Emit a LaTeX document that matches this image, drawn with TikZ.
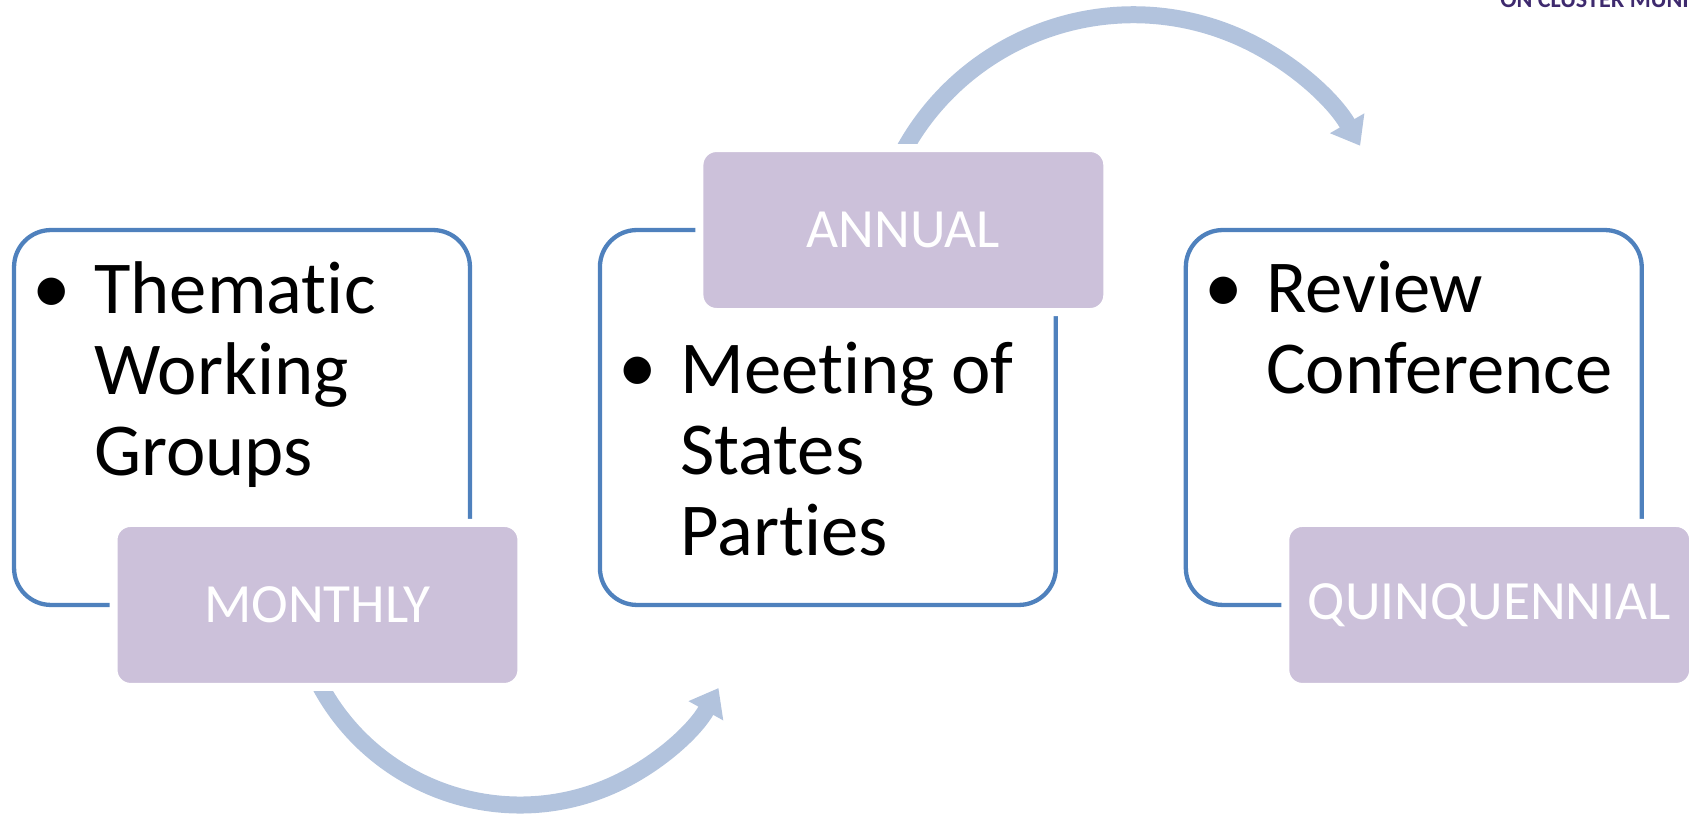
\documentclass[tikz,border=0pt]{standalone}
\usepackage{fontspec}
\setmainfont{Carlito}[Ligatures=NoCommon]
\usetikzlibrary{positioning,arrows.meta,backgrounds}
\definecolor{boxblue}{RGB}{79,129,189}
\definecolor{lilac}{RGB}{204,193,218}
\definecolor{cycleblue}{RGB}{178,195,221}
\definecolor{logopurple}{RGB}{62,42,110}

\begin{document}
\begin{tikzpicture}[x=0.02cm,y=0.02cm,
		stagebox/.style={draw=boxblue,line width=0.086cm,rounded corners=0.74cm,minimum width=9.12cm,minimum height=7.5cm,inner sep=0pt,outer sep=0pt},
		periodbox/.style={fill=lilac,draw=white,line width=0.16cm,rounded corners=0.34cm,minimum width=8.16cm,minimum height=3.28cm,outer sep=0pt,text=white,font=\fontsize{31.5}{34}\selectfont},
		itemtext/.style={anchor=base west,align=left,inner sep=0pt,font=\fontsize{42.5}{46}\selectfont},
		bulletdot/.style={anchor=base,inner sep=0pt,font=\fontsize{44}{46}\selectfont},
		cyclearrow/.style={draw=cycleblue,line width=0.34cm,-{Triangle[width=0.76cm,length=0.52cm]}}]
			\useasboundingbox (0,0) rectangle (1694,814);
			\clip (0,0) rectangle (1694,814);

			\node[stagebox] (box1) at (242,396.5) {};
			\node[stagebox,right=2.6cm of box1] (box2) {};
			\node[stagebox,right=2.6cm of box2] (box3) {};

			% text nodes sit on the baseline of their last line
			\node[bulletdot] (b1) at ([shift={(38,-83)}]box1.north west) {•};
			\node[itemtext] (groups) at ([shift={(80,-245)}]box1.north west) {Thematic\\Working\\Groups};
			\node[bulletdot] (b2) at ([shift={(38,-162)}]box2.north west) {•};
			\node[itemtext] (meeting) at ([shift={(80,-325)}]box2.north west) {Meeting of\\States\\Parties};
			\node[bulletdot] (b3) at ([shift={(38,-82)}]box3.north west) {•};
			\node[itemtext] (review) at ([shift={(80,-163)}]box3.north west) {Review\\Conference};

			\node[periodbox] (monthly) at ([xshift=1.51cm]box1.south) {MONTHLY};
			\node[periodbox] (annual) at ([xshift=1.51cm]box2.north) {ANNUAL};
			\node[periodbox] (quinquennial) at ([xshift=1.51cm]box3.south) {QUINQUENNIAL};

			\begin{scope}[on background layer]
				\draw[cyclearrow] ([shift={(-3.2,13)}]monthly.south) arc[start angle=205,end angle=331,radius=4.54cm];
				\draw[cyclearrow] ([shift={(-7.5,-18)}]annual.north) arc[start angle=155,end angle=30,radius=5.24cm];
			\end{scope}

			\node[anchor=base west,inner sep=0pt,text=logopurple,font=\bfseries\fontsize{13.7}{14}\selectfont] (logo) at (1500,806) {ON CLUSTER MUNI};
\end{tikzpicture}
\end{document}
